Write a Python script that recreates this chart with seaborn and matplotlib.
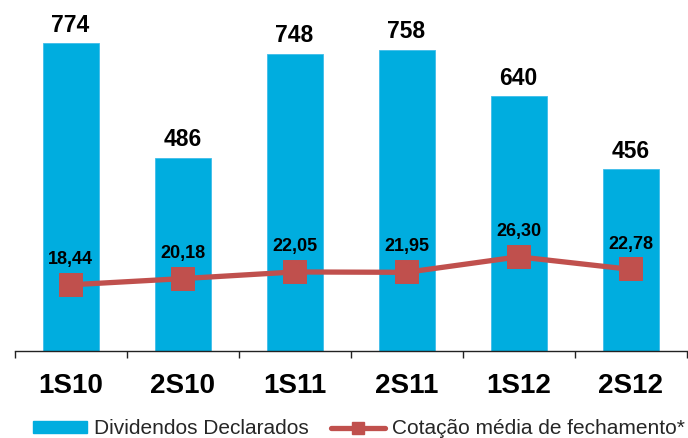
import matplotlib
matplotlib.use("Agg")
import matplotlib.pyplot as plt
import seaborn as sns
import pandas as pd
from matplotlib.patches import Patch
from matplotlib.lines import Line2D

categories = ["1S10", "2S10", "1S11", "2S11", "1S12", "2S12"]
dividendos = [774, 486, 748, 758, 640, 456]
cotacao = [18.44, 20.18, 22.05, 21.95, 26.30, 22.78]
legend_labels = ["Dividendos Declarados", "Cotação média de fechamento*"]

BLUE = "#00ADDF"
RED = "#C0504D"

sns.set_theme(style="white")
plt.rcParams["font.family"] = ["Liberation Sans", "DejaVu Sans"]

df = pd.DataFrame({"periodo": categories, "div": dividendos, "cot": cotacao})

W, H = 688, 438
fig = plt.figure(figsize=(W / 100, H / 100), dpi=100)
left, right, top, bottom = 14.5, 686.5, 10, 350.5
ax = fig.add_axes([left / W, 1 - bottom / H, (right - left) / W, (bottom - top) / H])

sns.barplot(data=df, x="periodo", y="div", color=BLUE, width=0.5, ax=ax,
            saturation=1, edgecolor="#3FBDEA", linewidth=0.6, errorbar=None)

ax2 = ax.twinx()
sns.pointplot(data=df, x="periodo", y="cot", ax=ax2, color=RED, markers="s",
              markersize=14, linewidth=3.8, errorbar=None)

ax.set_ylim(0, (bottom - top) / 0.397)
ax2.set_ylim(0, (bottom - top) / 3.562)
for a in (ax, ax2):
    a.set_xlim(-0.5, len(categories) - 0.5)
    a.set_yticks([])
    a.set_ylabel("")
    a.set_xlabel("")
    for s in ("left", "right", "top"):
        a.spines[s].set_visible(False)
ax2.spines["bottom"].set_visible(False)
ax.spines["bottom"].set_color("#222222")
ax.spines["bottom"].set_linewidth(1.0)

ax.set_xticks(range(len(categories)))
ax.set_xticklabels(categories, fontsize=20, fontweight="bold", color="black")
ax.set_xticks([i - 0.5 for i in range(len(categories) + 1)], minor=True)
ax.tick_params(axis="x", which="major", length=0, pad=16)
ax.tick_params(axis="x", which="minor", length=5, width=1.0, color="#222222",
               direction="out", bottom=True)

for i, v in enumerate(dividendos):
    ax.annotate(f"{v}", (i, v), xytext=(0, 8), textcoords="offset points",
                ha="center", va="baseline", fontsize=16.5, fontweight="bold",
                color="black")
for i, v in enumerate(cotacao):
    ax2.annotate(f"{v:.2f}".replace(".", ","), (i, v), xytext=(0, 15),
                 textcoords="offset points", ha="center", va="baseline",
                 fontsize=13, fontweight="bold", color="black")

handles = [
    Patch(facecolor=BLUE, edgecolor=BLUE),
    Line2D([], [], color=RED, linewidth=3.8, marker="s", markersize=9),
]
fig.legend(handles, legend_labels, loc="center", bbox_to_anchor=(359 / W, 9 / H),
           ncol=2, frameon=False, fontsize=15, handlelength=2.6,
           handleheight=0.55, handletextpad=0.33, columnspacing=1.05,
           borderpad=0, borderaxespad=0)

fig.savefig("out.png", dpi=100)
